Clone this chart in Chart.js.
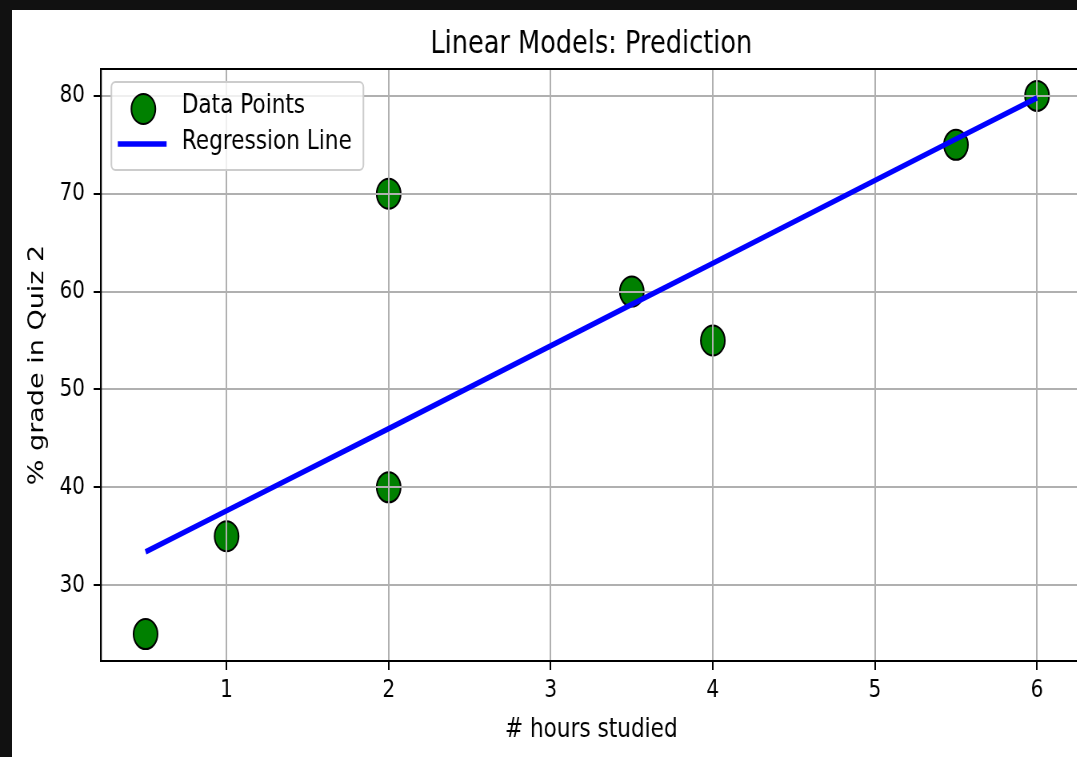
<!DOCTYPE html>
<html>
<head>
<meta charset="utf-8">
<script src="https://cdn.jsdelivr.net/npm/chart.js@4"></script>
<style>
  body { margin: 0; background: #111; overflow: hidden; }
  #wrap { position: absolute; left: 12px; top: 10px; width: 1065px; height: 747px; background: #fff; overflow: hidden; }
  #chart { transform: scaleX(0.8); transform-origin: 0 0; }
</style>
</head>
<body>
<div id="wrap"><canvas id="chart" width="1345" height="747"></canvas></div>
<script>
const hours = [0.5, 1, 2, 2, 3.5, 4, 5.5, 6];
const grades = [25, 35, 40, 70, 60, 55, 75, 80];
const predicted = [33.4, 37.6, 46.0, 46.0, 58.7, 62.9, 75.6, 79.8];
const xTicks = [1, 2, 3, 4, 5, 6];
const yTicks = [30, 40, 50, 60, 70, 80];

const FONT = 'DejaVu Sans';

// matplotlib draws the grid above the scatter but below the line
const gridOver = {
    id: 'gridOver',
    afterDatasetDraw(chart, args) {
        if (args.index !== 0) return;
        chart.scales.x.drawGrid(chart.chartArea);
        chart.scales.y.drawGrid(chart.chartArea);
    }
};

const frame = {
    id: 'frame',
    afterDatasetsDraw(chart) {
        const {ctx, chartArea: a} = chart;
        ctx.save();
        ctx.strokeStyle = '#000';
        ctx.lineWidth = 2;
        ctx.strokeRect(a.left, a.top, a.right - a.left, a.bottom - a.top);
        ctx.restore();
    }
};

const legendBox = {
    id: 'legendBox',
    afterDraw(chart) {
        const {ctx, chartArea} = chart;
        const x = chartArea.left + 13, y = chartArea.top + 13, w = 315, h = 88;
        const pts = chart.data.datasets[0], line = chart.data.datasets[1];
        ctx.save();
        ctx.beginPath();
        ctx.roundRect(x, y, w, h, 5);
        ctx.fillStyle = 'rgba(255,255,255,0.8)';
        ctx.fill();
        ctx.strokeStyle = '#cccccc';
        ctx.lineWidth = 2;
        ctx.stroke();

        ctx.beginPath();
        ctx.arc(x + 40, y + 27, pts.pointRadius, 0, Math.PI * 2);
        ctx.fillStyle = pts.backgroundColor;
        ctx.fill();
        ctx.lineWidth = pts.borderWidth;
        ctx.strokeStyle = pts.borderColor;
        ctx.stroke();

        ctx.beginPath();
        ctx.moveTo(x + 8, y + 62);
        ctx.lineTo(x + 69, y + 62);
        ctx.lineWidth = line.borderWidth;
        ctx.strokeStyle = line.borderColor;
        ctx.stroke();

        ctx.fillStyle = '#000';
        ctx.font = '27px "' + FONT + '"';
        ctx.textBaseline = 'middle';
        ctx.fillText(pts.label, x + 88, y + 24);
        ctx.fillText(line.label, x + 88, y + 60);
        ctx.restore();
    }
};

const chart = new Chart(document.querySelector('#chart'), {
    type: 'scatter',
    data: {
        datasets: [{
            label: 'Data Points',
            data: hours.map((h, i) => ({x: h, y: grades[i]})),
            backgroundColor: '#008000',
            borderColor: '#000',
            borderWidth: 2,
            pointRadius: 15,
            pointHoverRadius: 15,
            order: 1
        }, {
            type: 'line',
            label: 'Regression Line',
            data: hours.map((h, i) => ({x: h, y: predicted[i]})),
            borderColor: '#0000ff',
            borderWidth: 5.5,
            pointRadius: 0,
            fill: false,
            order: 0
        }]
    },
    options: {
        responsive: false,
        animation: false,
        layout: {autoPadding: false, padding: {left: 0, right: 8, top: 0, bottom: 0}},
        plugins: {
            legend: {display: false},
            tooltip: {enabled: false},
            title: {
                display: true,
                text: 'Linear Models: Prediction',
                fullSize: false,
                color: '#000',
                font: {family: FONT, size: 32, weight: 'normal'},
                padding: {top: 15.3, bottom: 5.3}
            }
        },
        scales: {
            x: {
                type: 'linear',
                min: 0.225,
                max: 6.275,
                afterBuildTicks: s => { s.ticks = xTicks.map(v => ({value: v})); },
                afterFit: s => { s.height = 96; s.paddingLeft = 0; s.paddingRight = 0; },
                grid: {color: '#b0b0b0', lineWidth: 2, tickColor: '#000', tickLength: 9, tickWidth: 2},
                border: {color: '#000', width: 2},
                ticks: {color: '#000', font: {family: FONT, size: 25}, padding: 5, maxRotation: 0},
                title: {display: true, text: '# hours studied', color: '#000', font: {family: FONT, size: 27}, padding: {top: 0, bottom: 10.8}}
            },
            y: {
                min: 22.25,
                max: 82.75,
                afterBuildTicks: s => { s.ticks = yTicks.map(v => ({value: v})); },
                afterFit: s => { s.width = 111.25; s.paddingTop = 0; s.paddingBottom = 0; },
                grid: {color: '#b0b0b0', lineWidth: 2, tickColor: '#000', tickLength: 9, tickWidth: 2},
                border: {color: '#000', width: 2},
                ticks: {color: '#000', font: {family: FONT, size: 25}, padding: 11},
                title: {display: true, text: '% grade in Quiz 2', color: '#000', font: {family: FONT, size: 27}, padding: {top: 16, bottom: 0}}
            }
        }
    },
    plugins: [gridOver, frame, legendBox]
});
</script>
</body>
</html>
